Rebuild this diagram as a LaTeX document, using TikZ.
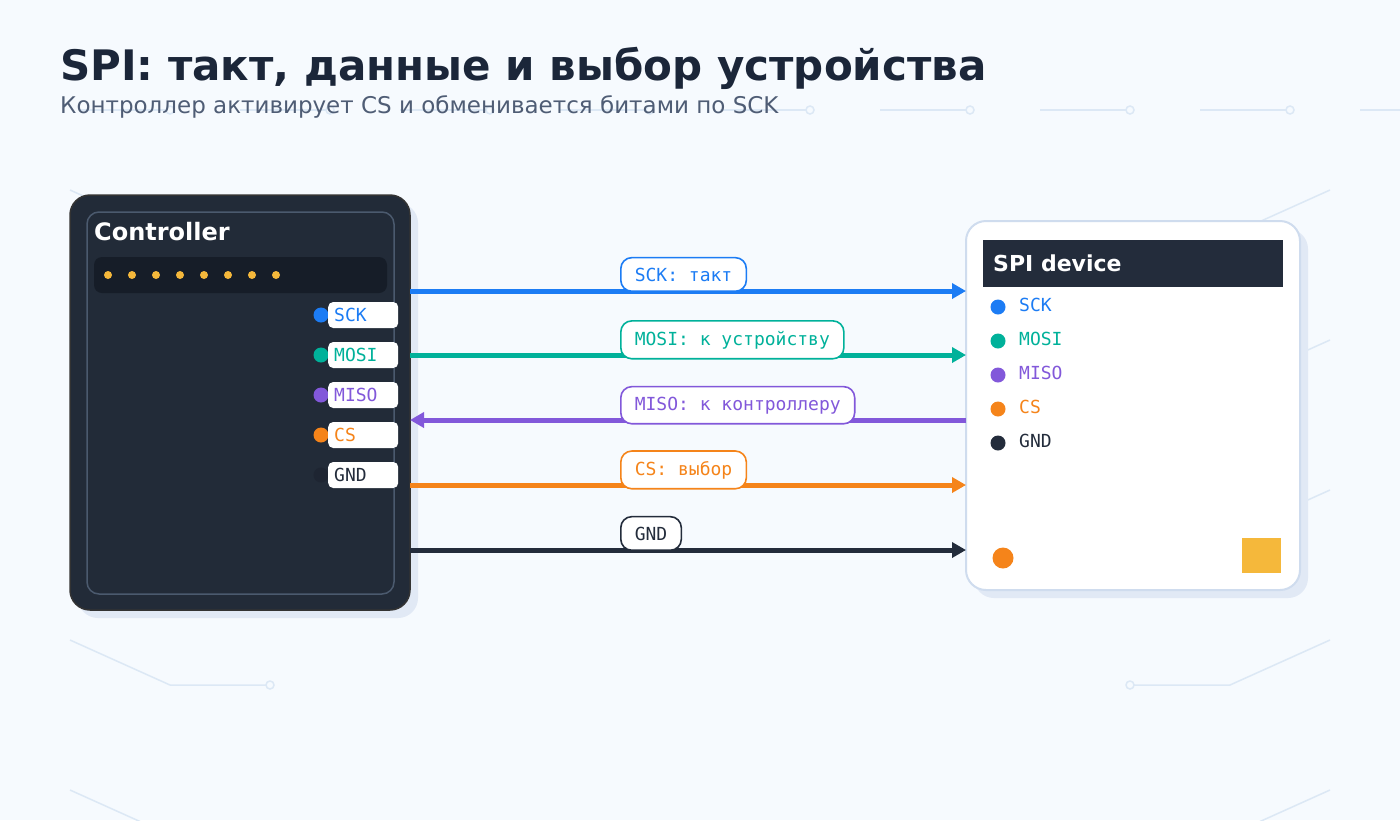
\documentclass[tikz,border=0pt]{standalone}
\usepackage{fontspec}
\setmainfont{DejaVu Sans}
\newfontfamily\monofont{DejaVu Sans Mono}
\usetikzlibrary{arrows.meta,positioning}
\definecolor{bgC}{HTML}{F6FAFE}
\definecolor{traceC}{HTML}{DCE8F5}
\definecolor{shadowC}{HTML}{E1E9F5}
\definecolor{titleC}{HTML}{1B2639}
\definecolor{subC}{HTML}{4F5D75}
\definecolor{boardC}{HTML}{222B38}
\definecolor{frameC}{HTML}{4B5A6E}
\definecolor{stripC}{HTML}{161D28}
\definecolor{devC}{HTML}{CFDCEE}
\definecolor{sckC}{HTML}{1C7CF4}
\definecolor{mosiC}{HTML}{00B19A}
\definecolor{misoC}{HTML}{8258DA}
\definecolor{csC}{HTML}{F5841A}
\definecolor{gndC}{HTML}{232C3B}
\definecolor{ledC}{HTML}{F5B83B}

\begin{document}
\begin{tikzpicture}[x=1pt,y=-1pt,
  trace/.style={traceC,line width=2pt},
  wire/.style={line width=5pt},
  tag/.style={draw,line width=1.6pt,fill=white,rounded corners=11pt,
    inner xsep=14pt,inner ysep=10pt,anchor=base west,
    font=\monofont\fontsize{18}{18}\selectfont},
  pinbox/.style={fill=white,rounded corners=5pt,anchor=west,text width=58pt,
    inner xsep=6pt,inner ysep=0pt,minimum height=26pt,
    font=\monofont\fontsize{18}{18}\selectfont},
  pintext/.style={anchor=west,inner sep=0pt,font=\monofont\fontsize{18}{18}\selectfont}]
  \useasboundingbox (0,0) rectangle (1400,820);
  \clip (0,0) rectangle (1400,820);
  \fill[bgC] (0,0) rectangle (1400,820);
  \foreach \k in {0,...,8}{
    \draw[trace] (80+160*\k,110) -- (166+160*\k,110);
    \draw[trace,line width=1.5pt,fill=bgC] (170+160*\k,110) circle (4);
  }
  \foreach \y in {190,340,490,640,790}{
    \draw[trace,line width=1.5pt] (70,\y) -- (170,\y+45) -- (266,\y+45);
    \draw[trace,line width=1.5pt,fill=bgC] (270,\y+45) circle (4);
    \draw[trace,line width=1.5pt] (1330,\y) -- (1230,\y+45) -- (1134,\y+45);
    \draw[trace,line width=1.5pt,fill=bgC] (1130,\y+45) circle (4);
  }
  \node[anchor=base west,inner sep=0pt,text=titleC,font=\bfseries\fontsize{42}{50}\selectfont]
    (title) at (60,80) {SPI: такт, данные и выбор устройства};
  \node[anchor=base west,inner sep=0pt,text=subC,font=\fontsize{23}{27}\selectfont]
    (subtitle) at (60,113) {Контроллер активирует CS и обменивается битами по SCK};

  \fill[shadowC,rounded corners=20pt] (78,203) rectangle (418,618);
  \draw[boardC,fill=boardC,rounded corners=20pt,draw=black!80,line width=1.5pt]
    (70,195) rectangle (410,610);
  \draw[frameC,line width=1.5pt,rounded corners=12pt] (87,212) rectangle (394,594);
  \node[anchor=base west,inner sep=0pt,text=white,font=\bfseries\fontsize{24}{27}\selectfont]
    (ctrl) at (94,240) {Controller};
  \fill[stripC,rounded corners=8pt] (94,257) rectangle (387,293);
  \foreach \i in {0,...,7}
    \fill[ledC] (108+24*\i,275) circle (4);

  \fill[sckC] (321,315) circle (7.5);
  \fill[mosiC] (321,355) circle (7.5);
  \fill[misoC] (321,395) circle (7.5);
  \fill[csC] (321,435) circle (7.5);
  \fill[gndC!85!black] (321,475) circle (7.5);
  \node[pinbox,text=sckC] (pSCK) at (328,315) {SCK};
  \node[pinbox,text=mosiC] (pMOSI) at (328,355) {MOSI};
  \node[pinbox,text=misoC] (pMISO) at (328,395) {MISO};
  \node[pinbox,text=csC] (pCS) at (328,435) {CS};
  \node[pinbox,text=gndC] (pGND) at (328,475) {GND};

  \fill[shadowC,rounded corners=20pt] (974,229) rectangle (1308,598);
  \draw[fill=white,draw=devC,line width=2pt,rounded corners=20pt] (966,221) rectangle (1300,590);
  \fill[gndC] (983,240) rectangle (1283,287);
  \node[anchor=base west,inner sep=0pt,text=white,font=\bfseries\fontsize{22}{26}\selectfont]
    (dev) at (993,271) {SPI device};
  \fill[sckC] (998,307) circle (7.5);
  \fill[mosiC] (998,341) circle (7.5);
  \fill[misoC] (998,375) circle (7.5);
  \fill[csC] (998,409) circle (7.5);
  \fill[gndC] (998,443) circle (7.5);
  \node[pintext,text=sckC] (dSCKt) at (1019,305) {SCK};
  \node[pintext,text=mosiC] (dMOSIt) at (1019,339) {MOSI};
  \node[pintext,text=misoC] (dMISOt) at (1019,373) {MISO};
  \node[pintext,text=csC] (dCSt) at (1019,407) {CS};
  \node[pintext,text=gndC] (dGNDt) at (1019,441) {GND};
  \fill[csC] (1003,558) circle (10.5);
  \fill[ledC] (1242,538) rectangle (1281,573);

  \coordinate (cSCK) at (410,291);
  \coordinate (cMOSI) at (410,355);
  \coordinate (cMISO) at (410,420);
  \coordinate (cCS) at (410,485);
  \coordinate (cGND) at (410,550);
  \coordinate (dSCK) at (966,291);
  \coordinate (dMOSI) at (966,355);
  \coordinate (dMISO) at (966,420);
  \coordinate (dCS) at (966,485);
  \coordinate (dGND) at (966,550);
  \draw[wire,sckC,-{Triangle[length=14pt,width=15pt]}] (cSCK) -- (dSCK);
  \draw[wire,mosiC,-{Triangle[length=14pt,width=15pt]}] (cMOSI) -- (dMOSI);
  \draw[wire,misoC,-{Triangle[length=14pt,width=15pt]}] (dMISO) -- (cMISO);
  \draw[wire,csC,-{Triangle[length=14pt,width=15pt]}] (cCS) -- (dCS);
  \draw[wire,gndC,-{Triangle[length=14pt,width=15pt]}] (cGND) -- (dGND);

  \node[tag,draw=sckC,text=sckC] (tSCK) at (620,281) {SCK: такт};
  \node[tag,draw=mosiC,text=mosiC] (tMOSI) at (620,345) {MOSI: к устройству};
  \node[tag,draw=misoC,text=misoC] (tMISO) at (620,410) {MISO: к контроллеру};
  \node[tag,draw=csC,text=csC] (tCS) at (620,475) {CS: выбор};
  \node[tag,draw=gndC,text=gndC] (tGND) at (620,540) {GND};
\end{tikzpicture}
\end{document}
